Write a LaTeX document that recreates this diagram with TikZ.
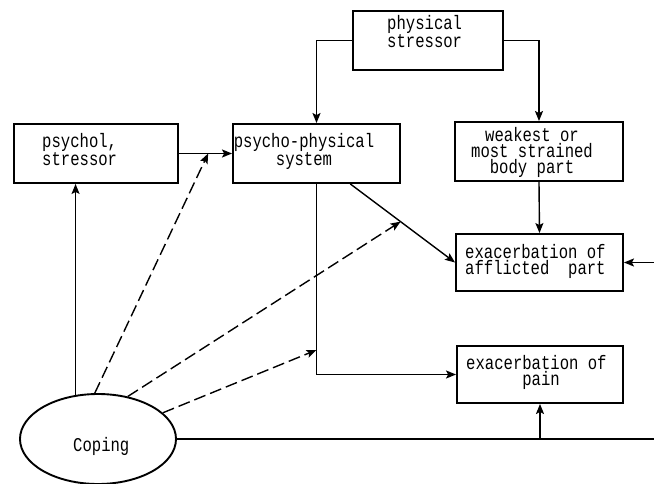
\documentclass[tikz,border=0pt]{standalone}
\usepackage{fontspec}
\newfontfamily\lab[FakeStretch=0.8]{Liberation Mono}
\usetikzlibrary{arrows.meta,shapes.geometric,calc}
\begin{document}
\begin{tikzpicture}[x=1pt,y=-1pt,
  box/.style={draw,line width=1.9pt,inner sep=0pt},
  txt/.style={font=\lab\fontsize{19.5}{16}\selectfont,inner sep=0pt,anchor=base west,align=left},
  conn/.style={line width=1.4pt},
  arr/.style={conn,-{Stealth[length=10pt,width=8pt,inset=2pt]}},
  dsh/.style={arr,dash pattern=on 12pt off 5pt}]
\useasboundingbox (0,0) rectangle (654,484);

% boxes
\node[box,minimum width=150pt,minimum height=59pt] (phys) at (428,40.5) {};
\node[box,minimum width=164pt,minimum height=59pt] (psychol) at (96,153.5) {};
\node[box,minimum width=167pt,minimum height=59pt] (psycho) at (316.5,153.5) {};
\node[box,minimum width=168pt,minimum height=59pt] (weak) at (539,151.5) {};
\node[box,minimum width=167pt,minimum height=57pt] (affl) at (539.5,262.5) {};
\node[box,minimum width=166pt,minimum height=57pt] (pain) at (540,374.5) {};
\node[draw,ellipse,line width=1.9pt,minimum width=156pt,minimum height=90pt,inner sep=0pt] (cop) at (98,439) {};

% texts (anchor = baseline of the last line)
\node[txt] (tphys) at (387,48) {physical\\stressor};
\node[txt] (tpsy) at (42,166) {psychol,\\stressor};
\node[txt,anchor=base,align=center] (tpp) at (304,166) {psycho-physical\\system};
\node[txt,anchor=base,align=center] (tweak) at (532,174) {weakest or\\most strained\\body part};
\node[txt] (taff) at (465,274) {exacerbation of\\afflicted\ \ part};
\node[txt] (tpain) at (466,385) {exacerbation of\\\phantom{exacer}pain};
\node[txt] (tcop) at (73,451) {Coping};

% coordinates
\coordinate (dstart) at ($(psycho.south west)!0.70!(psycho.south east)$);
\coordinate (t1) at ($(psychol.east)!0.55!(psycho.west)$);
\coordinate (t2) at ($(dstart)!0.48!(affl.west)$);
\coordinate (t3) at (psycho.south |- 0,350);
\coordinate (redge1) at (654,262.5);
\coordinate (redge2) at (cop.east -| redge1);

% solid connectors
\draw[arr] (phys.west) -| (psycho.north);
\draw[arr] (phys.east) -| (weak.north);
\draw[arr] (psychol.east) -- (psycho.west);
\draw[arr] (weak.south) -- (affl.north);
\draw[arr] (dstart) -- (affl.west);
\draw[arr] (psycho.south) |- (pain.west);
\draw[arr] (redge1) -- (affl.east);
\draw[conn] (cop.east) -- (redge2);
\draw[arr] (pain.south |- cop.east) -- (pain.south);
\draw[arr] (cop.117) -- (cop.117 |- psychol.south);

% dashed connectors
\draw[dsh] (cop.94) -- (t1);
\draw[dsh] (cop.55) -- (t2);
\draw[dsh] (cop.22) -- (t3);
\end{tikzpicture}
\end{document}
